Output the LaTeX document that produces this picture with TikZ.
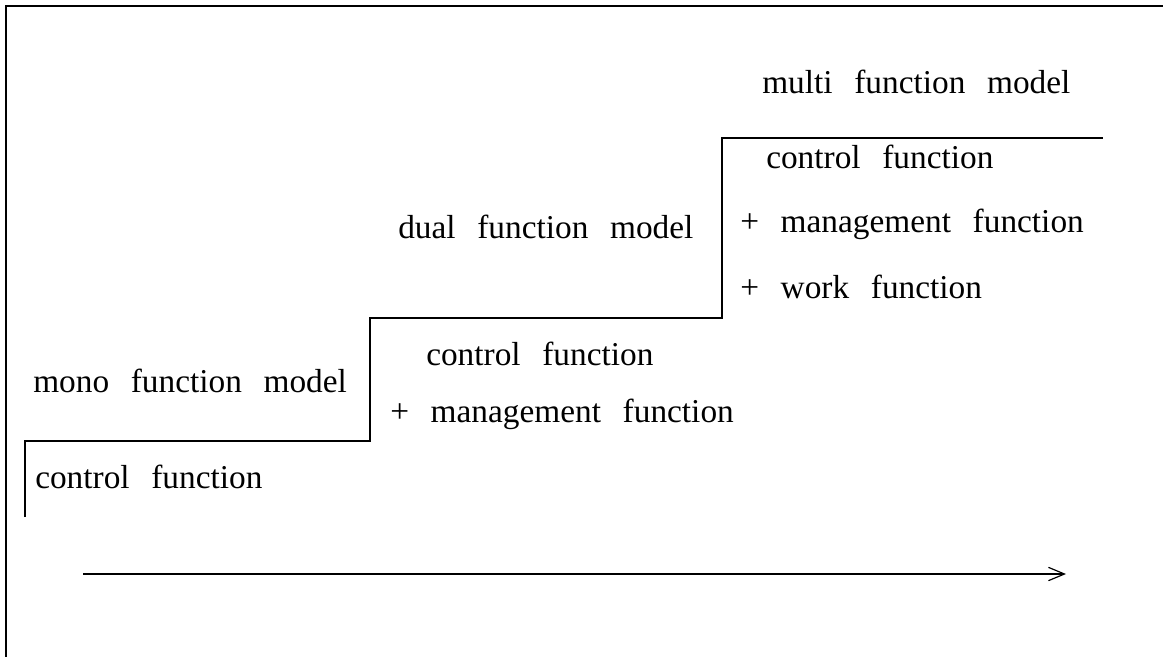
\documentclass[tikz,border=0pt]{standalone}
\usepackage{fontspec}
\setmainfont{Liberation Serif}[WordSpace=2.6]
\usetikzlibrary{arrows.meta}
\begin{document}
\begin{tikzpicture}[x=0.75pt,y=-0.75pt,
  frameline/.style={line width=1.3pt,black},
  stairline/.style={line width=0.9pt,black},
  label/.style={anchor=base west,inner sep=0pt,font=\fontsize{25}{30}\selectfont},
  progress/.style={line width=1pt,-{Straight Barb[length=12pt,width=10pt,line width=0.9pt]}}]
  \useasboundingbox (0,0) rectangle (1163,657);
  \fill[white] (0,0) rectangle (1163,657);

  % outer frame: top and left edges
  \coordinate (frTR) at (1163,6);
  \coordinate (frTL) at (6,6);
  \coordinate (frBL) at (6,657);
  \draw[frameline] (frTR) -- (frTL) -- (frBL);

  % staircase corners
  \coordinate (s0) at (25,517);
  \coordinate (s1) at (25,441);
  \coordinate (s2) at (370,441);
  \coordinate (s3) at (370,318);
  \coordinate (s4) at (722,318);
  \coordinate (s5) at (722,138);
  \coordinate (s6) at (1103,138);
  \draw[stairline] (s0) -- (s1) -- (s2) -- (s3) -- (s4) -- (s5) -- (s6);

  % model names
  \node[label] (mono) at (33,392) {mono function model};
  \node[label] (dual) at (398,238) {dual function model};
  \node[label] (multi) at (762,93) {multi function model};

  % functions of each step
  \node[label] (c1) at (35,488) {control function};

  \node[label] (c2) at (426,365) {control function};
  \node[label] (m2) at (390,422) {+ management function};

  \node[label] (c3) at (766,168) {control function};
  \node[label] (m3) at (740,232) {+ management function};
  \node[label] (w3) at (740,298) {+ work function};

  % development arrow
  \coordinate (arS) at (83,574);
  \coordinate (arE) at (1066,574);
  \draw[progress] (arS) -- (arE);
\end{tikzpicture}
\end{document}
